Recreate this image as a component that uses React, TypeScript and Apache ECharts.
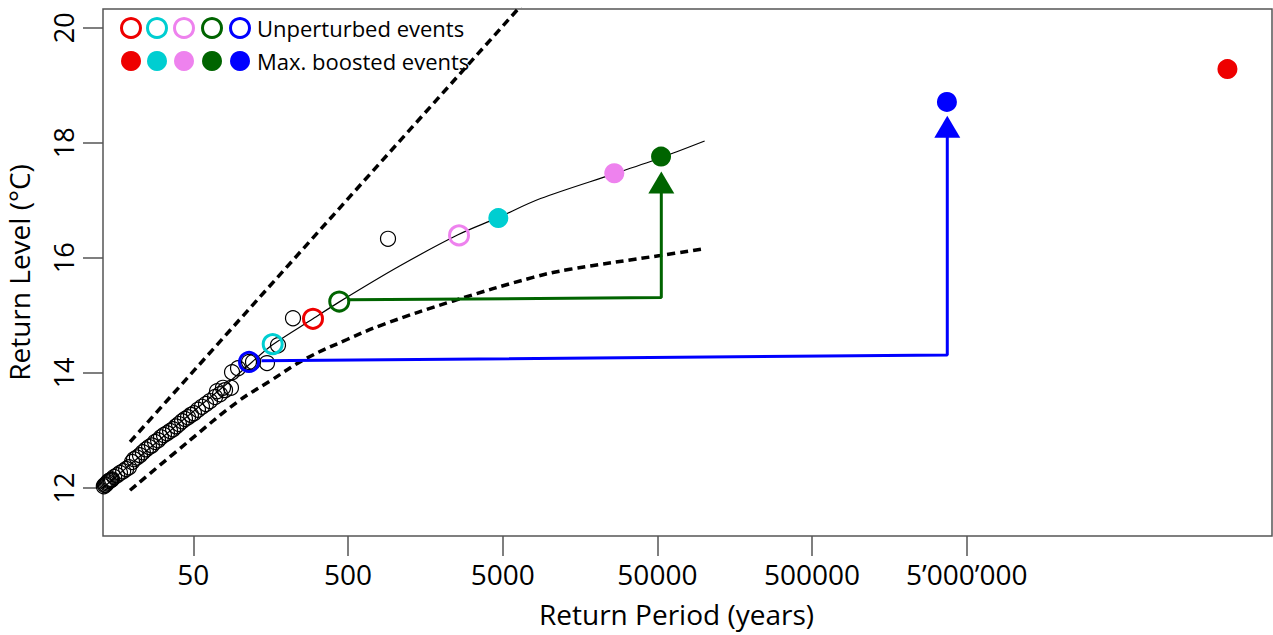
import React, { useEffect, useRef } from "react";
import * as echarts from "echarts";

// ---- axis ticks ----
const xTickPeriods = [50, 500, 5000, 50000, 500000, 5000000];
const xTickLabels = ["50", "500", "5000", "50000", "500000", "5\u2019000\u2019000"];
const yTickValues = [12, 14, 16, 18, 20];

// ---- empirical (observed) return levels, black open circles ----
const obsPeriods = [13.0, 13.2, 13.4, 13.6, 13.8, 14.0, 14.2, 14.5, 14.7, 14.9, 15.4, 16.1, 16.8, 17.6, 18.4, 19.2, 20.1, 20.7, 21.6, 22.6, 23.6, 24.7, 25.9, 27.0, 28.3, 29.6, 30.9, 32.3, 33.8, 35.4, 37.0, 38.7, 40.4, 42.3, 44.2, 46.2, 48.3, 50.5, 53.6, 56.9, 60.4, 64.1, 69.1, 71.2, 74.4, 77.8, 80.2, 87.6, 89.0, 97.3, 114.6, 121.6, 149.8, 176.4, 220.5, 907];
const obsLevels = [12.0, 12.03, 12.05, 12.06, 12.08, 12.1, 12.12, 12.13, 12.14, 12.15, 12.19, 12.22, 12.26, 12.29, 12.33, 12.36, 12.45, 12.5, 12.53, 12.57, 12.62, 12.67, 12.71, 12.74, 12.8, 12.83, 12.88, 12.92, 12.95, 12.99, 13.02, 13.07, 13.11, 13.16, 13.2, 13.23, 13.27, 13.3, 13.36, 13.41, 13.46, 13.51, 13.58, 13.68, 13.63, 13.74, 13.7, 13.74, 14.01, 14.08, 14.19, 14.19, 14.17, 14.48, 14.95, 16.33];

// ---- fitted return level curve ----
const fitPeriods = [13, 20, 30, 50, 80, 120, 161, 297, 437, 1050, 2570, 4590, 8780, 26200, 52700, 101000];
const fitLevels = [12.0, 12.43, 12.83, 13.33, 13.78, 14.19, 14.48, 14.94, 15.23, 15.84, 16.4, 16.69, 17.03, 17.46, 17.74, 18.03];

// ---- confidence bounds (dashed) ----
const upperPeriods = [19.5, 100, 1000, 10000];
const upperLevels = [12.8, 14.93, 17.93, 20.93];
const lowerPeriods = [19.5, 47.6, 95.8, 157, 264, 493, 842, 2390, 7850, 13600, 52000, 101400];
const lowerLevels = [11.96, 12.83, 13.49, 13.86, 14.24, 14.58, 14.84, 15.25, 15.66, 15.8, 16.04, 16.16];

// ---- events: red, cyan, violet, green, blue ----
const eventColors = ["#EE0000", "#00CED1", "#EE82EE", "#006400", "#0000FF"];
const unperturbedPeriods = [297, 163, 2610, 439, 114.6];
const unperturbedLevels = [14.94, 14.5, 16.39, 15.24, 14.19];
const boostedPeriods = [2.42e8, 4685, 26330, 52800, 3.72e6];
const boostedLevels = [19.28, 16.69, 17.47, 17.76, 18.71];

// ---- arrows ----
const greenArrowPeriods = [500, 53000, 53000];
const greenArrowLevels = [15.27, 15.31, 17.2];
const greenArrowHead = [53000, 17.31];
const blueArrowPeriods = [138, 3.74e6, 3.74e6];
const blueArrowLevels = [14.21, 14.31, 18.2];
const blueArrowHead = [3.74e6, 18.28];

const FONT = "Open Sans";
const lg = (v: number) => Math.log10(v);
const pairs = (ps: number[], ls: number[]) => ps.map((p, i) => [lg(p), ls[i]]);

export default function App() {
  const ref = useRef<HTMLDivElement>(null);
  useEffect(() => {
    if (!ref.current) return;
    const chart = echarts.init(ref.current, undefined, { renderer: "svg" });
    const xTickLogs = xTickPeriods.map(lg);
    const legendX = [131, 157, 184, 212, 240];
    const graphics: any[] = [];
    legendX.forEach((x, i) => {
      graphics.push({
        type: "circle",
        shape: { cx: x, cy: 28, r: 9.5 },
        style: { fill: "none", stroke: eventColors[i], lineWidth: 3 },
        z: 100,
      });
      graphics.push({
        type: "circle",
        shape: { cx: x, cy: 61, r: 10 },
        style: { fill: eventColors[i] },
        z: 100,
      });
    });
    graphics.push({
      type: "text",
      x: 257,
      y: 28,
      style: { text: "Unperturbed events", fontFamily: FONT, fontSize: 22, fill: "#000", verticalAlign: "middle", align: "left" },
      z: 100,
    });
    graphics.push({
      type: "text",
      x: 257,
      y: 61,
      style: { text: "Max. boosted events", fontFamily: FONT, fontSize: 22, fill: "#000", verticalAlign: "middle", align: "left" },
      z: 100,
    });

    chart.setOption({
      animation: false,
      backgroundColor: "#fff",
      grid: {
        left: 103,
        top: 9,
        right: 1,
        bottom: 99,
        containLabel: false,
        outerBoundsMode: "none",
        show: true,
        borderColor: "#555",
        borderWidth: 1.5,
        backgroundColor: "transparent",
      },
      xAxis: {
        type: "value",
        min: 1.1153,
        max: 8.6719,
        name: "Return Period (years)",
        nameLocation: "middle",
        nameGap: 64,
        nameTextStyle: { fontFamily: FONT, fontSize: 28, color: "#000", padding: [0, 22, 0, 0] },
        axisLine: { show: false },
        splitLine: { show: false },
        axisTick: { show: true, length: 20, customValues: xTickLogs, lineStyle: { color: "#555", width: 1.5 } },
        axisLabel: {
          show: true,
          customValues: xTickLogs,
          margin: 24,
          fontFamily: FONT,
          fontSize: 28,
          color: "#000",
          formatter: (v: number) => {
            const i = xTickLogs.findIndex((t) => Math.abs(t - v) < 1e-6);
            return i >= 0 ? xTickLabels[i] : "";
          },
        },
      },
      yAxis: {
        type: "value",
        min: 11.1646,
        max: 20.325,
        name: "Return Level (\u00B0C)",
        nameLocation: "middle",
        nameGap: 70,
        nameRotate: 90,
        nameTextStyle: { fontFamily: FONT, fontSize: 28, color: "#000" },
        axisLine: { show: false },
        splitLine: { show: false },
        axisTick: { show: true, length: 20, customValues: yTickValues, lineStyle: { color: "#555", width: 1.5 } },
        axisLabel: {
          show: true,
          customValues: yTickValues,
          rotate: 90,
          margin: 26,
          fontFamily: FONT,
          fontSize: 27,
          color: "#000",
        },
      },
      graphic: graphics,
      series: [
        {
          type: "scatter",
          data: pairs(obsPeriods, obsLevels),
          symbol: "circle",
          symbolSize: 15,
          itemStyle: { color: "transparent", borderColor: "#000", borderWidth: 1.2, opacity: 1 },
          z: 2,
        },
        {
          type: "line",
          data: pairs(fitPeriods, fitLevels),
          symbol: "none",
          smooth: 0.3,
          lineStyle: { color: "#000", width: 1.2 },
          z: 3,
        },
        {
          type: "line",
          data: pairs(upperPeriods, upperLevels),
          symbol: "none",
          clip: true,
          lineStyle: { color: "#000", width: 3.5, type: [8, 5] },
          z: 3,
        },
        {
          type: "line",
          data: pairs(lowerPeriods, lowerLevels),
          symbol: "none",
          smooth: 0.4,
          lineStyle: { color: "#000", width: 3.5, type: [8, 5] },
          z: 3,
        },
        {
          type: "line",
          data: pairs(greenArrowPeriods, greenArrowLevels),
          symbol: "none",
          lineStyle: { color: eventColors[3], width: 3 },
          z: 4,
        },
        {
          type: "line",
          data: pairs(blueArrowPeriods, blueArrowLevels),
          symbol: "none",
          lineStyle: { color: eventColors[4], width: 3 },
          z: 4,
        },
        {
          type: "scatter",
          symbol: "triangle",
          symbolSize: [26, 22],
          data: [
            { value: [lg(greenArrowHead[0]), greenArrowHead[1]], itemStyle: { color: eventColors[3], opacity: 1 } },
            { value: [lg(blueArrowHead[0]), blueArrowHead[1]], itemStyle: { color: eventColors[4], opacity: 1 } },
          ],
          z: 5,
        },
        {
          type: "scatter",
          symbol: "circle",
          symbolSize: 19,
          data: unperturbedPeriods.map((p, i) => ({
            value: [lg(p), unperturbedLevels[i]],
            itemStyle: { color: "transparent", borderColor: eventColors[i], borderWidth: 3, opacity: 1 },
          })),
          z: 6,
        },
        {
          type: "scatter",
          symbol: "circle",
          symbolSize: 20,
          data: boostedPeriods.map((p, i) => ({
            value: [lg(p), boostedLevels[i]],
            itemStyle: { color: eventColors[i], opacity: 1 },
          })),
          z: 6,
        },
      ],
    });
    return () => chart.dispose();
  }, []);
  return <div ref={ref} style={{ position: "absolute", left: 0, top: 0, width: 1273, height: 635 }} />;
}
